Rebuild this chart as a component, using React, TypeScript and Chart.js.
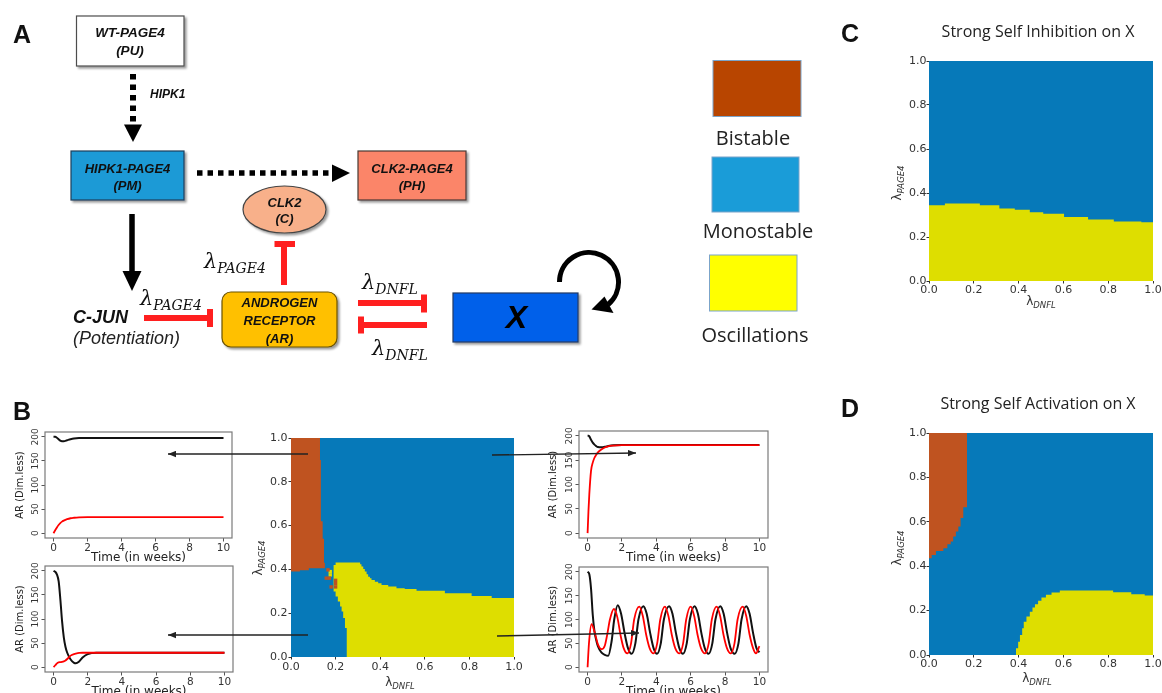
import React, { useEffect, useRef } from 'react';
import { Chart, registerables } from 'chart.js';

Chart.register(...registerables);

// ---------------- tick labels ----------------
const PHASE_TICKS = [0, 0.2, 0.4, 0.6, 0.8, 1.0];
const TIME_TICKS = [0, 2, 4, 6, 8, 10];
const AR_TICKS = [0, 50, 100, 150, 200];

// whole parameter window (monostable background)
const FULL_X = [0, 1];
const FULL_TOP = [1, 1];

// ---------------- Panel C: strong self inhibition ----------------
const C_OSC_X = [0, 0.071, 0.227, 0.314, 0.383, 0.45, 0.51, 0.603, 0.71, 0.825, 0.948, 1.0];
const C_OSC_TOP = [0.344, 0.352, 0.344, 0.329, 0.324, 0.312, 0.306, 0.291, 0.28, 0.271, 0.267, 0.267];

// ---------------- Panel D: strong self activation ----------------
const D_BI_X = [0, 0.012, 0.031, 0.064, 0.082, 0.097, 0.108, 0.12, 0.131, 0.141, 0.153, 0.17];
const D_BI_BOTTOM = [0.436, 0.451, 0.469, 0.481, 0.499, 0.511, 0.534, 0.556, 0.579, 0.617, 0.665, 0.665];
const D_OSC_X = [0.388, 0.398, 0.406, 0.416, 0.423, 0.435, 0.45, 0.462, 0.473, 0.487, 0.502, 0.522, 0.547, 0.584, 0.822, 0.903, 0.963, 1.0];
const D_OSC_TOP = [0.03, 0.06, 0.09, 0.12, 0.15, 0.173, 0.195, 0.214, 0.229, 0.244, 0.259, 0.271, 0.281, 0.29, 0.283, 0.274, 0.268, 0.268];

// ---------------- Panel B: central phase diagram ----------------
const B_BI_X = [0, 0.04, 0.08, 0.13, 0.134, 0.142, 0.148, 0.152];
const B_BI_TOP = [1, 1, 1, 0.9, 0.62, 0.54, 0.43, 0.43];
const B_BI_BOTTOM = [0.39, 0.396, 0.405, 0.405, 0.405, 0.405, 0.405, 0.405];
const B_OSC_X = [0.19, 0.2, 0.21, 0.22, 0.227, 0.234, 0.242, 0.25, 0.31, 0.316, 0.324, 0.331, 0.339, 0.346, 0.354, 0.361, 0.376, 0.391, 0.406, 0.436, 0.473, 0.51, 0.563, 0.69, 0.81, 0.9, 1.0];
const B_OSC_TOP = [0.42, 0.431, 0.431, 0.431, 0.431, 0.431, 0.431, 0.431, 0.423, 0.413, 0.402, 0.39, 0.378, 0.367, 0.36, 0.352, 0.344, 0.337, 0.329, 0.322, 0.314, 0.31, 0.303, 0.291, 0.279, 0.269, 0.269];
const B_OSC_BOTTOM = [0.299, 0.276, 0.253, 0.231, 0.208, 0.178, 0.132, 0, 0, 0, 0, 0, 0, 0, 0, 0, 0, 0, 0, 0, 0, 0, 0, 0, 0, 0, 0];
const B_BI_CELL_X = [0.166, 0.158, 0.172, 0.18, 0.2, 0.2, 0.2];
const B_BI_CELL_Y = [0.398, 0.36, 0.36, 0.32, 0.35, 0.335, 0.32];
const B_OSC_CELL_X = [0.176, 0.176];
const B_OSC_CELL_Y = [0.39, 0.375];

// ---------------- time courses (AR, dim.less) ----------------
const T_TL = [0, 0.1, 0.2, 0.3, 0.4, 0.5, 0.6, 0.8, 1.0, 1.2, 1.5, 2, 3, 4, 6, 8, 10];
const TL_BLACK = [200, 200, 198, 195, 192, 191, 191, 193, 195, 196.5, 197.5, 197.5, 197.5, 197.5, 197.5, 197.5, 197.5];
const TL_RED = [0, 6, 12, 17, 21, 24, 26, 29, 31, 32, 33, 33.5, 33.5, 33.5, 33.5, 33.5, 33.5];

const T_TR = [0, 0.05, 0.1, 0.2, 0.3, 0.4, 0.5, 0.6, 0.8, 1.0, 1.2, 1.5, 2, 3, 4, 6, 8, 10];
const TR_BLACK = [200, 200, 199, 192, 186, 182, 179, 177, 176.5, 177.5, 179, 180.5, 181, 181, 181, 181, 181, 181];
const TR_RED = [0, 45, 80, 128, 145, 155, 161, 166, 172, 176, 178.5, 180, 181, 181, 181, 181, 181, 181];

const T_BL = [0, 0.1, 0.2, 0.3, 0.4, 0.5, 0.6, 0.7, 0.8, 1.0, 1.2, 1.3, 1.5, 1.7, 2, 2.5, 3, 4, 6, 8, 10];
const BL_BLACK = [200, 198, 192, 178, 140, 95, 62, 42, 30, 16, 9, 8, 12, 20, 27, 30, 30, 30, 30, 30, 30];
const BL_RED = [0, 4, 8, 10, 10.5, 11, 12, 14, 17, 24, 27, 28, 29.5, 30, 30, 30, 30, 30, 30, 30, 30];

const T_BR_BLACK = [0, 0.1, 0.2, 0.3, 0.4, 0.5, 0.6, 0.8, 1.0, 1.2, 1.4, 1.55, 1.75, 1.95, 2.15, 2.35, 2.56, 2.78, 2.96, 3.24, 3.44, 3.64, 3.84, 4.04, 4.26, 4.44, 4.74, 4.94, 5.14, 5.34, 5.55, 5.77, 5.95, 6.22, 6.42, 6.62, 6.82, 7.04, 7.26, 7.44, 7.72, 7.92, 8.12, 8.32, 8.56, 8.78, 8.96, 9.23, 9.43, 9.63, 9.83, 10];
const BR_BLACK = [200, 195, 165, 110, 75, 57, 44, 31, 26, 24, 55, 100, 130, 112, 72, 40, 28, 50, 100, 128, 112, 72, 40, 28, 50, 100, 128, 112, 72, 40, 28, 50, 100, 128, 112, 72, 40, 28, 50, 100, 128, 112, 72, 40, 28, 50, 100, 128, 112, 72, 40, 31];
const T_BR_RED = [0, 0.08, 0.23, 0.4, 0.6, 0.82, 1.0, 1.15, 1.3, 1.53, 1.73, 1.93, 2.1, 2.31, 2.53, 2.71, 3.01, 3.21, 3.41, 3.61, 3.83, 4.05, 4.23, 4.5, 4.7, 4.9, 5.1, 5.34, 5.56, 5.74, 6.0, 6.2, 6.4, 6.6, 6.83, 7.05, 7.23, 7.51, 7.71, 7.91, 8.11, 8.33, 8.55, 8.73, 9.03, 9.23, 9.43, 9.63, 9.8, 10];
const BR_RED = [0, 50, 90, 75, 48, 38, 45, 70, 100, 122, 105, 65, 40, 29, 50, 100, 127, 108, 68, 40, 29, 50, 100, 127, 108, 68, 40, 29, 50, 100, 127, 108, 68, 40, 29, 50, 100, 127, 108, 68, 40, 29, 50, 100, 127, 108, 68, 40, 29, 44];

// ---------------- styles ----------------
const PH_BLUE = '#0679b9';
const PH_YELLOW = '#dede00';
const PH_BROWN = '#bf5320';
const SANS = '"DejaVu Sans", sans-serif';
const BOXFONT = '"Liberation Sans", Arial, sans-serif';

const pts = (xs: number[], ys: number[]) => xs.map((x, i) => ({ x, y: ys[i] }));

function region(xs: number[], ys: number[], color: string, fill: any, order: number) {
  return {
    data: pts(xs, ys), stepped: true, fill, backgroundColor: color,
    borderColor: 'transparent', borderWidth: 0, pointRadius: 0, order,
  };
}
function cells(xs: number[], ys: number[], color: string, order: number) {
  return {
    data: pts(xs, ys), showLine: false, fill: false, pointStyle: 'rect', pointRadius: 2.4,
    pointBackgroundColor: color, pointBorderColor: color, pointBorderWidth: 0, order,
  };
}

function phaseAxis(isX: boolean, size: number, fontSize: number, pad: number) {
  return {
    type: 'linear', min: 0, max: 1,
    afterBuildTicks: (a: any) => { a.ticks = PHASE_TICKS.map((v) => ({ value: v })); },
    afterFit: (s: any) => { if (isX) s.height = size; else s.width = size; },
    border: { display: false },
    grid: { display: true, drawOnChartArea: false, drawTicks: true, tickLength: 2.5, color: '#333', lineWidth: 1 },
    ticks: {
      autoSkip: false, maxRotation: 0, minRotation: 0, padding: pad, color: '#333',
      font: { family: SANS, size: fontSize },
      callback: (v: any) => Number(v).toFixed(1),
    },
  };
}

function phaseConfig(datasets: any[], yW: number, xH: number, padTop: number, padRight: number, fontSize: number, pad: number) {
  return {
    type: 'line',
    data: { datasets },
    options: {
      responsive: false, animation: false, events: [],
      layout: { padding: { top: padTop, right: padRight, left: 0, bottom: 0 } },
      plugins: { legend: { display: false }, tooltip: { enabled: false } },
      scales: { x: phaseAxis(true, xH, fontSize, pad), y: phaseAxis(false, yW, fontSize, pad) },
    },
  };
}

const framePlugin = {
  id: 'frame',
  afterDraw(chart: any) {
    const { ctx, chartArea: a } = chart;
    ctx.save();
    ctx.strokeStyle = '#7a7a7a';
    ctx.lineWidth = 1.2;
    ctx.strokeRect(a.left, a.top, a.right - a.left, a.bottom - a.top);
    ctx.restore();
  },
};

const rotatedYTicks = {
  id: 'rotY',
  afterDraw(chart: any) {
    const { ctx, chartArea: a } = chart;
    const ys = chart.scales.y;
    ctx.save();
    ctx.font = '9px "DejaVu Sans"';
    ctx.fillStyle = '#333';
    ctx.textAlign = 'center';
    ctx.textBaseline = 'middle';
    ys.ticks.forEach((t: any) => {
      const py = ys.getPixelForValue(t.value);
      ctx.save();
      ctx.translate(a.left - 9, py);
      ctx.rotate(-Math.PI / 2);
      ctx.fillText(String(t.value), 0, 0);
      ctx.restore();
    });
    ctx.restore();
  },
};

function tsConfig(tBlack: number[], black: number[], tRed: number[], red: number[], yW: number, padTop: number, padRight: number, titlePad: number) {
  return {
    type: 'line',
    data: {
      datasets: [
        { data: pts(tRed, red), borderColor: '#ff0000', borderWidth: 1.8, pointRadius: 0, cubicInterpolationMode: 'monotone', fill: false },
        { data: pts(tBlack, black), borderColor: '#111111', borderWidth: 2, pointRadius: 0, cubicInterpolationMode: 'monotone', fill: false },
      ],
    },
    options: {
      responsive: false, animation: false, events: [],
      layout: { padding: { top: padTop, right: padRight, left: 0, bottom: 0 } },
      plugins: { legend: { display: false }, tooltip: { enabled: false } },
      scales: {
        x: {
          type: 'linear', min: -0.5, max: 10.5,
          afterBuildTicks: (a: any) => { a.ticks = TIME_TICKS.map((v) => ({ value: v })); },
          afterFit: (s: any) => { s.height = 27; },
          border: { display: false },
          grid: { drawOnChartArea: false, tickLength: 3.5, color: '#555' },
          ticks: { autoSkip: false, maxRotation: 0, padding: 0, color: '#333', font: { family: SANS, size: 10.5 } },
          title: { display: true, text: 'Time (in weeks)', color: '#222', font: { family: SANS, size: 12 }, padding: { top: 0, bottom: 0 } },
        },
        y: {
          type: 'linear', min: -10, max: 210,
          afterBuildTicks: (a: any) => { a.ticks = AR_TICKS.map((v) => ({ value: v })); },
          afterFit: (s: any) => { s.width = yW; },
          border: { display: false },
          grid: { drawOnChartArea: false, tickLength: 3.5, color: '#555' },
          ticks: { display: false },
          title: { display: true, text: 'AR (Dim.less)', color: '#222', font: { family: SANS, size: 10 }, padding: { top: titlePad, bottom: 0 } },
        },
      },
    },
    plugins: [framePlugin, rotatedYTicks],
  };
}

function ChartCanvas({ left, top, width, height, make }: any) {
  const ref = useRef<HTMLCanvasElement | null>(null);
  useEffect(() => {
    const chart = new Chart(ref.current as HTMLCanvasElement, make());
    return () => chart.destroy();
  }, []);
  return (
    <canvas ref={ref} width={width} height={height}
      style={{ position: 'absolute', left, top, width, height }} />
  );
}

function Lam({ x, y, sub, vertical }: any) {
  return (
    <div style={{
      position: 'absolute', left: x, top: y, whiteSpace: 'nowrap', lineHeight: 1,
      transform: `translate(-50%, -50%)${vertical ? ' rotate(-90deg)' : ''}`,
      fontFamily: SANS, fontSize: 12, color: '#333',
    }}>
      λ<span style={{ fontSize: 8.5, fontStyle: 'italic', position: 'relative', top: 3 }}>{sub}</span>
    </div>
  );
}

function BoxText({ x, ys, lines, size }: any) {
  return (
    <text textAnchor="middle" fontFamily={BOXFONT} fontWeight="bold" fontStyle="italic" fontSize={size} fill="#111">
      {lines.map((l: string, i: number) => (
        <tspan key={i} x={x} y={ys[i] + size * 0.36}>{l}</tspan>
      ))}
    </text>
  );
}

function LamText({ x, y, sub }: any) {
  return (
    <text x={x} y={y} fontFamily='"DejaVu Serif", serif' fontStyle="italic" fill="#111">
      <tspan fontSize={21}>λ</tspan>
      <tspan fontSize={14} dy={5}>{sub}</tspan>
    </text>
  );
}

function Diagram() {
  const RED = '#ff1f1f';
  return (
    <svg width={1162} height={693} style={{ position: 'absolute', left: 0, top: 0, pointerEvents: 'none' }}>
      <defs>
        <filter id="sh" x="-10%" y="-10%" width="130%" height="140%">
          <feDropShadow dx="2" dy="2" stdDeviation="1.3" floodColor="#000" floodOpacity="0.4" />
        </filter>
        <marker id="tip" viewBox="0 0 10 8" refX="10" refY="4" markerWidth="8" markerHeight="7" orient="auto" markerUnits="userSpaceOnUse">
          <path d="M0,0 L10,4 L0,8 z" fill="#222" />
        </marker>
      </defs>

      {/* panel letters */}
      <text x={13} y={43} fontFamily={BOXFONT} fontWeight="bold" fontSize={25} fill="#111">A</text>
      <text x={13} y={420} fontFamily={BOXFONT} fontWeight="bold" fontSize={25} fill="#111">B</text>
      <text x={841} y={42} fontFamily={BOXFONT} fontWeight="bold" fontSize={25} fill="#111">C</text>
      <text x={841} y={417} fontFamily={BOXFONT} fontWeight="bold" fontSize={25} fill="#111">D</text>

      {/* titles */}
      <text x={1038} y={37} textAnchor="middle" fontFamily='"Open Sans", sans-serif' fontSize={16} fill="#222">Strong Self Inhibition on X</text>
      <text x={1038} y={409} textAnchor="middle" fontFamily='"Open Sans", sans-serif' fontSize={16} fill="#222">Strong Self Activation on X</text>

      {/* WT-PAGE4 */}
      <rect x={76.5} y={16} width={107.5} height={50} fill="#ffffff" stroke="#4d4d4d" strokeWidth={1.2} filter="url(#sh)" />
      <BoxText x={130} ys={[32, 50]} lines={['WT-PAGE4', '(PU)']} size={13.5} />
      {/* dotted HIPK1 arrow */}
      <line x1={133} y1={74} x2={133} y2={124} stroke="#000" strokeWidth={6} strokeDasharray="5.5 5" />
      <polygon points="124,124.5 142,124.5 133,142" fill="#000" />
      <text x={150} y={97.5} fontFamily={BOXFONT} fontWeight="bold" fontStyle="italic" fontSize={12} fill="#111">HIPK1</text>

      {/* HIPK1-PAGE4 */}
      <rect x={71} y={151} width={113} height={49} fill="#1b9ad6" stroke="#1e3f5a" strokeWidth={1.2} filter="url(#sh)" />
      <BoxText x={127.5} ys={[168.5, 185]} lines={['HIPK1-PAGE4', '(PM)']} size={13} />

      {/* dotted horizontal arrow */}
      <line x1={197} y1={173} x2={332} y2={173} stroke="#000" strokeWidth={5.5} strokeDasharray="5.5 5" />
      <polygon points="332,164.5 332,182 350,173" fill="#000" />

      {/* CLK2-PAGE4 */}
      <rect x={358} y={151} width={108} height={49} fill="#fb8569" stroke="#4a3a36" strokeWidth={1.2} filter="url(#sh)" />
      <BoxText x={412} ys={[168.5, 185]} lines={['CLK2-PAGE4', '(PH)']} size={13} />

      {/* CLK2 ellipse */}
      <ellipse cx={284.5} cy={209.5} rx={41.5} ry={23.5} fill="#f8b08a" stroke="#444" strokeWidth={1.2} filter="url(#sh)" />
      <BoxText x={284.5} ys={[202, 218]} lines={['CLK2', '(C)']} size={13} />

      {/* AR inhibits CLK2 */}
      <line x1={284} y1={285} x2={284} y2={246} stroke={RED} strokeWidth={6} />
      <rect x={274.5} y={241} width={20.5} height={6} fill={RED} />
      <LamText x={204} y={268} sub="PAGE4" />

      {/* black arrow down */}
      <line x1={132} y1={214} x2={132} y2={272} stroke="#000" strokeWidth={5.5} />
      <polygon points="122.5,271 141.5,271 132,291" fill="#000" />

      {/* C-JUN */}
      <text x={73} y={322.5} fontFamily={BOXFONT} fontWeight="bold" fontStyle="italic" fontSize={18} fill="#111">C-JUN</text>
      <text x={73} y={344} fontFamily={BOXFONT} fontStyle="italic" fontSize={18} fill="#222">(Potentiation)</text>
      <LamText x={140} y={305} sub="PAGE4" />
      <line x1={144} y1={318} x2={209} y2={318} stroke={RED} strokeWidth={6} />
      <rect x={207} y={309} width={6} height={18} fill={RED} />

      {/* AR */}
      <rect x={222} y={292} width={115} height={55} rx={9} ry={9} fill="#ffc000" stroke="#6b5200" strokeWidth={1.2} filter="url(#sh)" />
      <BoxText x={279.5} ys={[302.5, 320, 338.5]} lines={['ANDROGEN', 'RECEPTOR', '(AR)']} size={13} />

      {/* AR <-> X mutual inhibition */}
      <LamText x={362} y={289} sub="DNFL" />
      <line x1={358} y1={303} x2={423} y2={303} stroke={RED} strokeWidth={6} />
      <rect x={421} y={294.5} width={6} height={18} fill={RED} />
      <line x1={362} y1={325} x2={427} y2={325} stroke={RED} strokeWidth={6} />
      <rect x={358} y={316.5} width={6} height={17} fill={RED} />
      <LamText x={372} y={355} sub="DNFL" />

      {/* X */}
      <rect x={453} y={293} width={125} height={49} fill="#0061ea" stroke="#203864" strokeWidth={1.2} filter="url(#sh)" />
      <text x={516.5} y={328} textAnchor="middle" fontFamily={BOXFONT} fontWeight="bold" fontStyle="italic" fontSize={32} fill="#000">X</text>
      <path d="M 559.5 282 A 29.5 29.5 0 1 1 608.1 304.5" fill="none" stroke="#000" strokeWidth={5} />
      <polygon points="604.5,296.5 613.5,313 591.5,309.5" fill="#000" />

      {/* legend */}
      <rect x={713} y={60.5} width={88} height={56} fill="#b84500" stroke="#7ba4c9" strokeWidth={1} />
      <text x={753} y={145} textAnchor="middle" fontFamily='"Open Sans", sans-serif' fontSize={20} fill="#222">Bistable</text>
      <rect x={712} y={157} width={87} height={55} fill="#1a9cd8" stroke="#7ba4c9" strokeWidth={1} />
      <text x={758} y={238} textAnchor="middle" fontFamily='"Open Sans", sans-serif' fontSize={20} fill="#222">Monostable</text>
      <rect x={709.5} y={255} width={87.5} height={56} fill="#ffff00" stroke="#7ba4c9" strokeWidth={1} />
      <text x={755} y={342} textAnchor="middle" fontFamily='"Open Sans", sans-serif' fontSize={20} fill="#222">Oscillations</text>

      {/* B connector arrows */}
      <line x1={308} y1={454} x2={168} y2={454} stroke="#222" strokeWidth={1.3} markerEnd="url(#tip)" />
      <line x1={492} y1={455} x2={636} y2={453} stroke="#222" strokeWidth={1.3} markerEnd="url(#tip)" />
      <line x1={308} y1={635} x2={168} y2={635} stroke="#222" strokeWidth={1.3} markerEnd="url(#tip)" />
      <line x1={497} y1={636} x2={639} y2={633} stroke="#222" strokeWidth={1.3} markerEnd="url(#tip)" />
    </svg>
  );
}

const makeC = () => phaseConfig([
  region(FULL_X, FULL_TOP, PH_BLUE, 'origin', 5),
  region(C_OSC_X, C_OSC_TOP, PH_YELLOW, 'origin', 3),
], 49, 19, 11, 9, 11, 0);

const makeD = () => phaseConfig([
  region(FULL_X, FULL_TOP, PH_BLUE, 'origin', 5),
  region(D_BI_X, D_BI_BOTTOM, PH_BROWN, 'end', 2),
  region(D_OSC_X, D_OSC_TOP, PH_YELLOW, 'origin', 3),
], 49, 20, 8, 9, 11, 0);

const makeB = () => phaseConfig([
  region(FULL_X, FULL_TOP, PH_BLUE, 'origin', 5),
  region(B_BI_X, B_BI_TOP, PH_BROWN, '+1', 2),
  region(B_BI_X, B_BI_BOTTOM, 'transparent', false, 4),
  region(B_OSC_X, B_OSC_TOP, PH_YELLOW, '+1', 3),
  region(B_OSC_X, B_OSC_BOTTOM, 'transparent', false, 4),
  cells(B_OSC_CELL_X, B_OSC_CELL_Y, PH_YELLOW, 1),
  cells(B_BI_CELL_X, B_BI_CELL_Y, PH_BROWN, 0),
], 46, 36, 8, 11, 11, 1);

export default function App() {
  return (
    <div style={{ position: 'absolute', left: 0, top: 0, width: 1162, height: 693, overflow: 'hidden', background: '#ffffff' }}>
      <ChartCanvas left={880} top={50} width={282} height={250} make={makeC} />
      <ChartCanvas left={880} top={425} width={282} height={250} make={makeD} />
      <ChartCanvas left={245} top={430} width={280} height={263} make={makeB} />
      <ChartCanvas left={0} top={425} width={245} height={140} make={() => tsConfig(T_TL, TL_BLACK, T_TL, TL_RED, 45, 7, 13, 14)} />
      <ChartCanvas left={0} top={559} width={246} height={140} make={() => tsConfig(T_BL, BL_BLACK, T_BL, BL_RED, 45, 7, 13, 14)} />
      <ChartCanvas left={530} top={424} width={250} height={141} make={() => tsConfig(T_TR, TR_BLACK, T_TR, TR_RED, 49, 7, 12, 17)} />
      <ChartCanvas left={530} top={560} width={250} height={139} make={() => tsConfig(T_BR_BLACK, BR_BLACK, T_BR_RED, BR_RED, 49, 7, 12, 17)} />
      <Lam x={1041} y={301} sub="DNFL" />
      <Lam x={897} y={183} sub="PAGE4" vertical />
      <Lam x={1037} y={678} sub="DNFL" />
      <Lam x={897} y={548} sub="PAGE4" vertical />
      <Lam x={400} y={682} sub="DNFL" />
      <Lam x={258} y={558} sub="PAGE4" vertical />
      <Diagram />
    </div>
  );
}
